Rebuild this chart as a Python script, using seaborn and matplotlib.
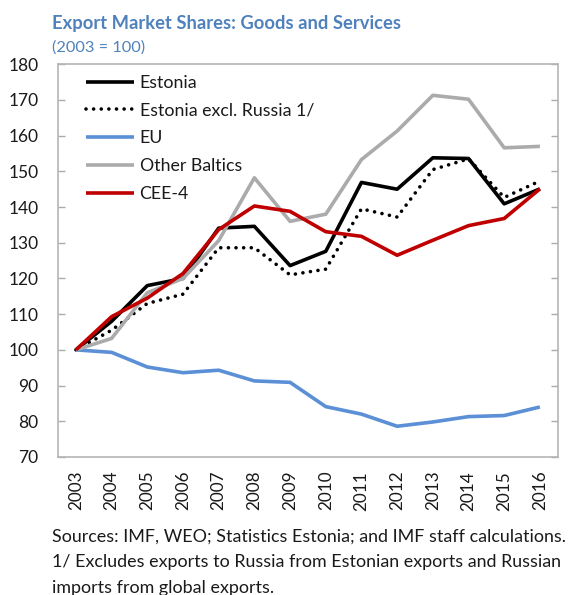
import matplotlib
matplotlib.use("Agg")
import matplotlib.pyplot as plt
import seaborn as sns
import pandas as pd
from matplotlib.ticker import FixedLocator

years = list(range(2003, 2017))
estonia = [100, 108, 118, 120, 134.1, 134.6, 123.6, 127.6, 146.9, 145.0, 153.8, 153.6, 140.9, 145.1]
estonia_ex_russia = [100, 105.5, 113, 115.6, 128.6, 128.6, 121, 122.6, 139.5, 137.2, 150.5, 153.5, 142.7, 147.3]
eu = [100, 99.3, 95.2, 93.6, 94.3, 91.3, 90.9, 84.1, 82.0, 78.6, 79.8, 81.3, 81.6, 84.0]
other_baltics = [100, 103.2, 116, 120, 130.6, 148.2, 136, 138, 153.3, 161.3, 171.3, 170.2, 156.6, 157]
cee4 = [100, 109.3, 114.5, 121.4, 133.7, 140.3, 138.8, 133.1, 131.8, 126.5, 130.7, 134.8, 136.8, 145.1]

series_names = ["Estonia", "Estonia excl. Russia 1/", "EU", "Other Baltics", "CEE-4"]
series_values = [estonia, estonia_ex_russia, eu, other_baltics, cee4]
colors = ["#000000", "#000000", "#5B8FD6", "#ABABAB", "#C00000"]
dotted = [False, True, False, False, False]

sns.set_theme(style="white")
plt.rcParams['font.family'] = ['Lato', 'DejaVu Sans']

fig = plt.figure(figsize=(5.75, 5.95), dpi=100)
ax = fig.add_axes([0.101, 0.232, 0.869, 0.660])

for name, vals, c, dot in zip(series_names, series_values, colors, dotted):
    df = pd.DataFrame({"year": years, "value": vals})
    sns.lineplot(data=df, x="year", y="value", ax=ax, color=c, linewidth=2.6,
                 label=name)
    ln = ax.lines[-1]
    if dot:
        ln.set_linestyle((0, (0.01, 2.1)))
        ln.set_dash_capstyle("round")
    else:
        ln.set_solid_capstyle("butt")

ax.set_xlim(years[0] - 0.5, years[-1] + 0.5)
ax.set_ylim(70, 180)
ax.set_yticks(range(70, 181, 10))
ax.set_xticks(years)
ax.set_xticklabels([str(y) for y in years], rotation=90, fontsize=12.3)
ax.xaxis.set_minor_locator(FixedLocator([y + 0.5 for y in years[:-1]]))
ax.tick_params(axis="x", which="major", length=0, pad=10)
ax.tick_params(axis="x", which="minor", length=5, direction="in", color="#ABABAB", width=1)
ax.tick_params(axis="y", which="major", length=5, direction="in", color="#ABABAB", width=1,
               labelsize=12.5, left=True, right=True, labelleft=True, labelright=False, pad=14)
for lab in ax.get_yticklabels() + ax.get_xticklabels():
    lab.set_color("#1a1a1a")
for s in ax.spines.values():
    s.set_color("#B5B5B5")
    s.set_linewidth(1.2)
ax.set_xlabel("")
ax.set_ylabel("")

leg = ax.legend(loc="upper left", bbox_to_anchor=(0.035, 1.0), frameon=False,
                fontsize=12.8, handlelength=2.7, handletextpad=0.3, labelspacing=0.66,
                borderaxespad=0.2)
for t in leg.get_texts():
    t.set_color("#1a1a1a")
leg_lines = leg.get_lines()
leg_lines[1].set_linestyle((0, (0.01, 2.1)))
leg_lines[1].set_dash_capstyle("round")

title_color = "#4F81BD"
fig.text(52 / 575, 1 - 23 / 595, "Export Market Shares: Goods and Services", fontsize=13.2,
         fontweight="bold", color=title_color, va="center", ha="left")
fig.text(52 / 575, 1 - 48 / 595, "(2003 = 100)", fontsize=11.8, color=title_color,
         va="center", ha="left")

foot = ["Sources: IMF, WEO; Statistics Estonia; and IMF staff calculations.",
        "1/ Excludes exports to Russia from Estonian exports and Russian",
        "imports from global exports."]
for i, line in enumerate(foot):
    fig.text(52 / 575, 1 - (537 + 25.5 * i) / 595, line, fontsize=12.9, color="#1a1a1a",
             va="center", ha="left")

fig.savefig("out.png", dpi=100)
